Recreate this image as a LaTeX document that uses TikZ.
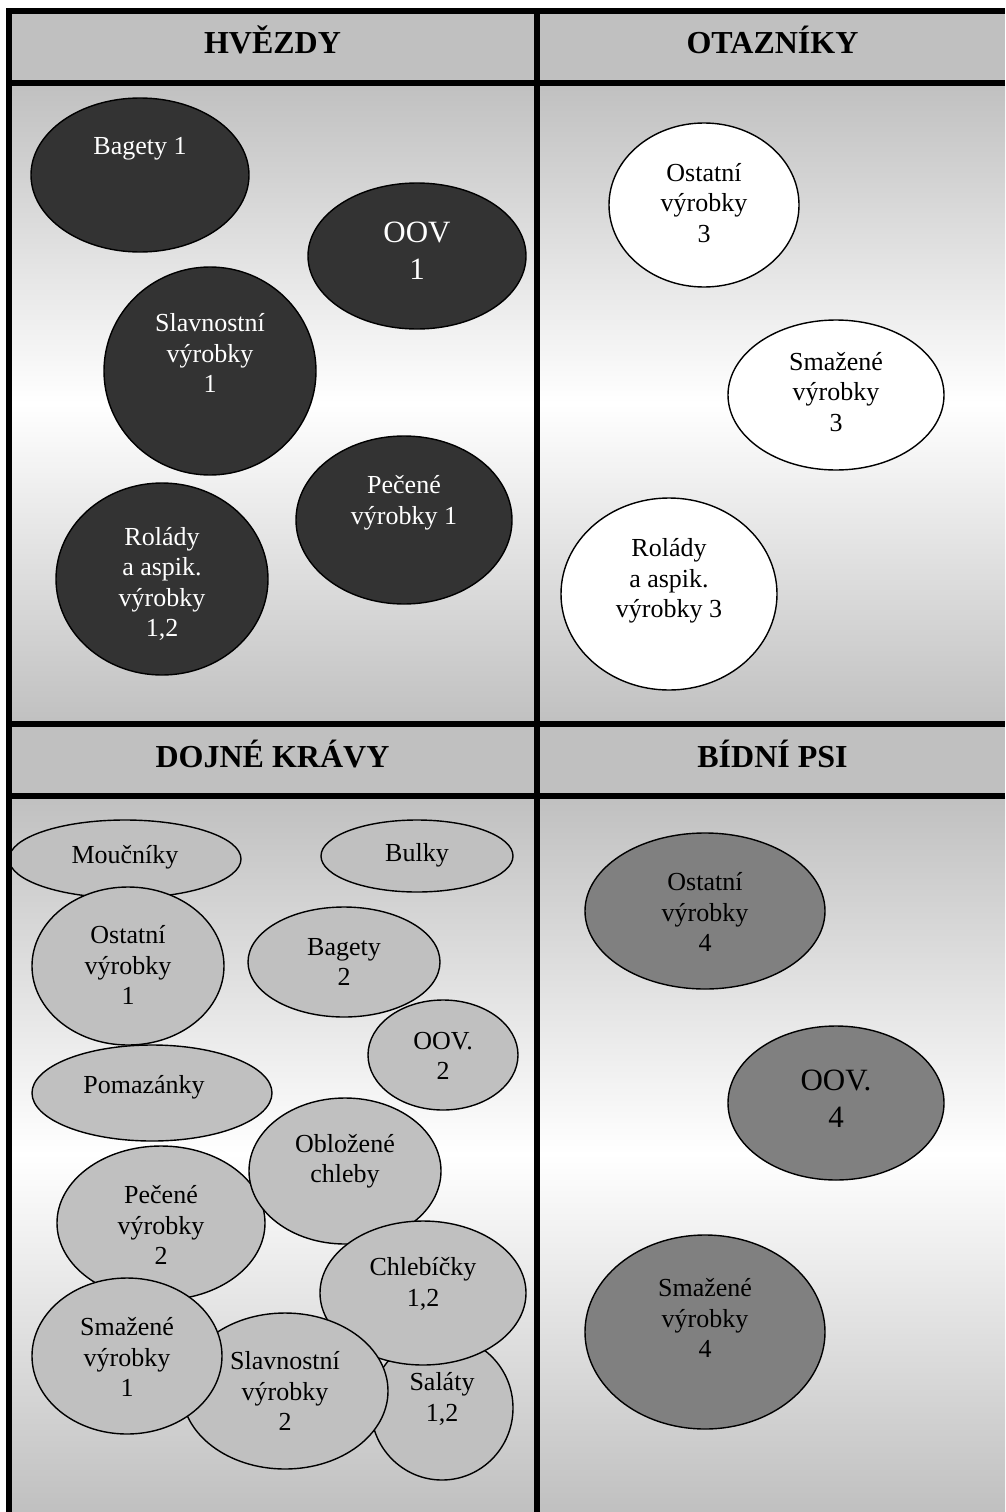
\documentclass[tikz,border=0pt]{standalone}
\usepackage{fontspec}
\setmainfont{Liberation Serif}
\usetikzlibrary{shapes.geometric}
\definecolor{cellgray}{HTML}{C0C0C0}
\definecolor{stardark}{HTML}{333333}
\definecolor{doggray}{HTML}{808080}
\tikzset{
  bubble/.style={ellipse, draw=black, line width=1.4pt, inner sep=0pt},
  starbub/.style={bubble, fill=stardark},
  questbub/.style={bubble, fill=white},
  cowbub/.style={bubble, fill=cellgray},
  dogbub/.style={bubble, fill=doggray},
  txt/.style={align=center, inner sep=0pt, font=\fontsize{26}{30.5}\selectfont},
  bigtxt/.style={align=center, inner sep=0pt, font=\fontsize{31}{37}\selectfont},
  head/.style={anchor=base, inner sep=0pt, font=\fontsize{32}{38}\selectfont\bfseries},
  gridline/.style={line width=6pt, line join=miter},
  body/.style={top color=cellgray, bottom color=cellgray, middle color=white},
}
\begin{document}
\begin{tikzpicture}[x=1pt,y=-1pt]
\useasboundingbox (0,0) rectangle (1005,1512);

% cell backgrounds
\fill[cellgray] (8.5,11.5) rectangle (1005,83);
\fill[cellgray] (8.5,724) rectangle (1005,796);
\shade[body] (8.5,83) rectangle (1005,724);
\shade[body] (8.5,796) rectangle (1005,1512);

% headers
\node[head] (h-stars) at (272.5,54) {HVĚZDY};
\node[head] (h-quest) at (772.5,54) {OTAZNÍKY};
\node[head] (h-cows)  at (272.5,767) {DOJNÉ KRÁVY};
\node[head] (h-dogs)  at (772.5,767) {BÍDNÍ PSI};

% stars
\node[starbub, minimum width=218pt, minimum height=154pt] (bag1) at (140,175) {};
\node[txt, text=white] (bag1-t) at (140,149) {Bagety 1};
\node[starbub, minimum width=218pt, minimum height=146pt] (oov1) at (417,256) {};
\node[bigtxt, text=white] (oov1-t) at (417,251) {OOV\\1};
\node[starbub, minimum width=212pt, minimum height=208pt] (slav1) at (210,371) {};
\node[txt, text=white] (slav1-t) at (210,353) {Slavnostní\\výrobky\\1};
\node[starbub, minimum width=216pt, minimum height=168pt] (pec1) at (404,520) {};
\node[txt, text=white] (pec1-t) at (404,503) {Pečené\\výrobky 1};
\node[starbub, minimum width=212pt, minimum height=192pt] (rol1) at (162,579) {};
\node[txt, text=white] (rol1-t) at (162,584) {Rolády\\a aspik.\\výrobky\\1,2};

% question marks
\node[questbub, minimum width=190pt, minimum height=164pt] (ost3) at (704,205) {};
\node[txt] (ost3-t) at (704,203) {Ostatní\\výrobky\\3};
\node[questbub, minimum width=216pt, minimum height=150pt] (sma3) at (836,395) {};
\node[txt] (sma3-t) at (836,392) {Smažené\\výrobky\\3};
\node[questbub, minimum width=216pt, minimum height=192pt] (rol3) at (669,594) {};
\node[txt] (rol3-t) at (669,581) {Rolády\\a aspik.\\výrobky 3};

% cash cows
\node[cowbub, minimum width=232pt, minimum height=78pt] (mouc) at (125,859) {};
\node[txt] (mouc-t) at (125,857) {Moučníky};
\node[cowbub, minimum width=192pt, minimum height=158pt] (ost1) at (128,966) {};
\node[txt] (ost1-t) at (128,965) {Ostatní\\výrobky\\1};
\node[cowbub, minimum width=192pt, minimum height=72pt] (bulk) at (417,856) {};
\node[txt] (bulk-t) at (417,855) {Bulky};
\node[cowbub, minimum width=192pt, minimum height=110pt] (bag2) at (344,962) {};
\node[txt] (bag2-t) at (344,962) {Bagety\\2};
\node[cowbub, minimum width=150pt, minimum height=110pt] (oov2) at (443,1055) {};
\node[txt] (oov2-t) at (443,1056) {OOV.\\2};
\node[cowbub, minimum width=240pt, minimum height=96pt] (poma) at (152,1093) {};
\node[txt] (poma-t) at (144,1087) {Pomazánky};
\node[cowbub, minimum width=208pt, minimum height=154pt] (pec2) at (161,1223) {};
\node[txt] (pec2-t) at (161,1225) {Pečené\\výrobky\\2};
\node[cowbub, minimum width=192pt, minimum height=146pt] (obl) at (345,1171) {};
\node[txt] (obl-t) at (345,1161) {Obložené\\chleby};
\node[cowbub, minimum width=142pt, minimum height=144pt] (sal) at (442,1408) {};
\node[txt] (sal-t) at (442,1399) {Saláty\\1,2};
\node[cowbub, minimum width=206pt, minimum height=144pt] (chle) at (423,1293) {};
\node[txt] (chle-t) at (423,1284) {Chlebíčky\\1,2};
\node[cowbub, minimum width=206pt, minimum height=156pt] (slav2) at (285,1391) {};
\node[txt] (slav2-t) at (285,1391) {Slavnostní\\výrobky\\2};
\node[cowbub, minimum width=190pt, minimum height=156pt] (sma1) at (127,1356) {};
\node[txt] (sma1-t) at (127,1357) {Smažené\\výrobky\\1};

% dogs
\node[dogbub, minimum width=240pt, minimum height=156pt] (ost4) at (705,911) {};
\node[txt] (ost4-t) at (705,912) {Ostatní\\výrobky\\4};
\node[dogbub, minimum width=216pt, minimum height=154pt] (oov4) at (836,1103) {};
\node[bigtxt] (oov4-t) at (836,1099) {OOV.\\4};
\node[dogbub, minimum width=240pt, minimum height=194pt] (sma4) at (705,1332) {};
\node[txt] (sma4-t) at (705,1318) {Smažené\\výrobky\\4};

% grid lines
\draw[gridline] (8.5,1512) -- (8.5,11.5) -- (1005,11.5);
\draw[gridline] (8.5,83) -- (1005,83);
\draw[gridline] (8.5,724) -- (1005,724);
\draw[gridline] (8.5,796) -- (1005,796);
\draw[gridline] (537,11.5) -- (537,1512);
\end{tikzpicture}
\end{document}
